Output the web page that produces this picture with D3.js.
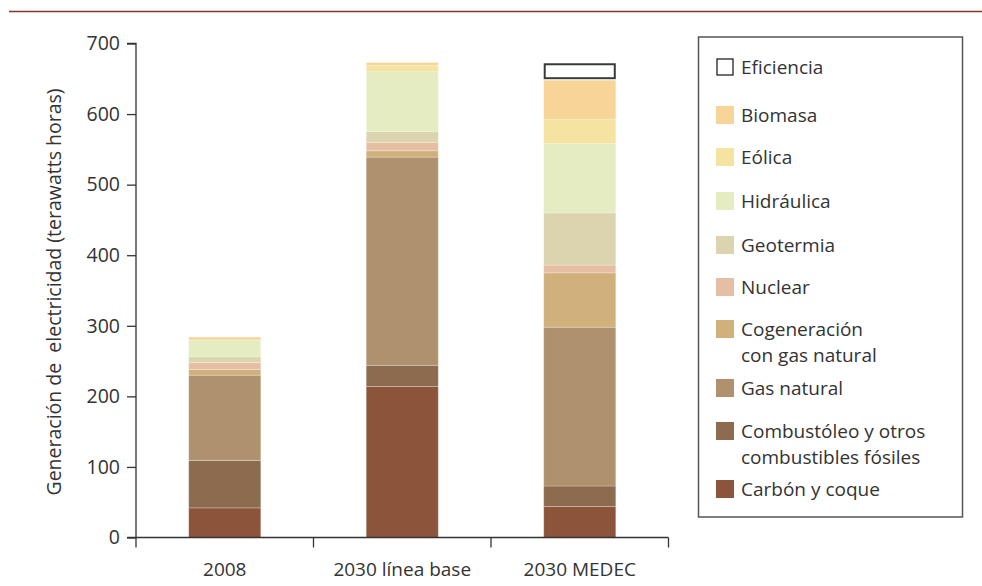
<!DOCTYPE html>
<html><head><meta charset="utf-8">
<script src="https://cdn.jsdelivr.net/npm/d3@7"></script>
<style>
html,body{margin:0;padding:0;background:#fff;}
svg{display:block;font-family:"Open Sans","Noto Sans",sans-serif;}
</style></head>
<body>
<svg id="chart" width="982" height="586"></svg>
<script>
const categories = ["2008", "2030 línea base", "2030 MEDEC"];
const carbon      = [42, 214, 44];
const combustoleo = [67, 30, 29];
const gasNatural  = [121, 295, 225];
const cogeneracion= [8, 9, 77];
const nuclear     = [10, 12, 11];
const geotermia   = [8, 15, 74];
const hidraulica  = [24, 85, 98];
const eolica      = [0, 9, 35];
const biomasa     = [4, 4, 55];
const eficiencia  = [0, 0, 24];
const yTicks = [0, 100, 200, 300, 400, 500, 600, 700];

const seriesNames = ["Carbón y coque", "Combustóleo y otros combustibles fósiles", "Gas natural",
  "Cogeneración con gas natural", "Nuclear", "Geotermia", "Hidráulica", "Eólica", "Biomasa", "Eficiencia"];
const seriesValues = [carbon, combustoleo, gasNatural, cogeneracion, nuclear, geotermia, hidraulica, eolica, biomasa, eficiencia];
const colors = ["#8c553b", "#8c6b4f", "#b0916e", "#d1b17b", "#e6bea4", "#dbd4ae", "#e5ecc2", "#f4e3a1", "#f7d497", "#ffffff"];
const legendLabels = [
  ["Eficiencia"], ["Biomasa"], ["Eólica"], ["Hidráulica"], ["Geotermia"], ["Nuclear"],
  ["Cogeneración", "con gas natural"], ["Gas natural"],
  ["Combustóleo y otros", "combustibles fósiles"], ["Carbón y coque"]
];
const legendY = [67, 115, 157, 201, 245, 287, 329, 388, 431, 489];

const FS = 19;
const svg = d3.select("#chart");

// top rule
svg.append("line").attr("x1", 9).attr("x2", 982).attr("y1", 11.5).attr("y2", 11.5)
  .attr("stroke", "#7b3b2c").attr("stroke-width", 1.5);

const x = d3.scaleBand().domain(categories).range([136, 668.5]).paddingInner(0.594).paddingOuter(0.297);
const y = d3.scaleLinear().domain([0, 700]).range([537.5, 43.5]);

// stack data
const table = categories.map((c, i) => {
  const o = {cat: c};
  seriesNames.forEach((s, k) => o[s] = seriesValues[k][i]);
  return o;
});
const stack = d3.stack().keys(seriesNames)(table);

const g = svg.append("g");
stack.forEach((layer, k) => {
  const isEff = seriesNames[k] === "Eficiencia";
  g.selectAll(null).data(layer.filter(d => d[1] - d[0] > 0)).enter().append("rect")
    .attr("x", d => x(d.data.cat) + (isEff ? 1 : 0))
    .attr("width", x.bandwidth() - (isEff ? 2 : 0))
    .attr("y", d => y(d[1]) + (isEff ? 1 : 0))
    .attr("height", d => y(d[0]) - y(d[1]) - (isEff ? 3 : 0))
    .attr("fill", colors[k])
    .attr("stroke", isEff ? "#3a3a3a" : "rgba(255,255,255,0.3)")
    .attr("stroke-width", isEff ? 2 : 0.8);
});

// y axis
const yAxis = svg.append("g").attr("transform", "translate(136,0)")
  .call(d3.axisLeft(y).tickValues(yTicks).tickSize(9).tickPadding(7).tickFormat(d3.format("d")));
yAxis.select(".domain").attr("stroke", "#333").attr("stroke-width", 1.3).attr("d", "M-9,43.5H0V537.5H-9");
yAxis.selectAll(".tick line").attr("stroke", "#333").attr("stroke-width", 1.3);
yAxis.selectAll(".tick text").attr("font-size", FS + 0.5).attr("fill", "#333").attr("font-family", "Open Sans, Noto Sans, sans-serif");

// x axis
const step = x.step();
const bounds = [x(categories[0]) + x.bandwidth() / 2 - step / 2].concat(categories.map(c => x(c) + x.bandwidth() / 2 + step / 2));
const xg = svg.append("g");
xg.append("line").attr("x1", bounds[0]).attr("x2", bounds[bounds.length - 1])
  .attr("y1", y(0)).attr("y2", y(0)).attr("stroke", "#333").attr("stroke-width", 1.3);
xg.selectAll(null).data(bounds).enter().append("line")
  .attr("x1", d => d).attr("x2", d => d).attr("y1", y(0)).attr("y2", y(0) + 10)
  .attr("stroke", "#333").attr("stroke-width", 1.3);
xg.selectAll(null).data(categories).enter().append("text")
  .attr("x", d => x(d) + x.bandwidth() / 2).attr("y", 576)
  .attr("text-anchor", "middle").attr("font-size", FS).attr("fill", "#333").text(d => d);

// y title
svg.append("text").attr("transform", "translate(61,292) rotate(-90)")
  .attr("text-anchor", "middle").attr("font-size", FS + 0.5).attr("fill", "#333")
  .style("white-space", "pre").text("Generación de  electricidad (terawatts horas)");

// legend
svg.append("rect").attr("x", 698.5).attr("y", 37).attr("width", 264).attr("height", 480)
  .attr("fill", "none").attr("stroke", "#555").attr("stroke-width", 1.5);
const legendColors = colors.slice().reverse();
legendLabels.forEach((lines, i) => {
  const cy = legendY[i];
  const isEff = i === 0;
  svg.append("rect").attr("x", isEff ? 717 : 716).attr("y", cy - (isEff ? 8 : 9))
    .attr("width", isEff ? 16 : 18).attr("height", isEff ? 16 : 18)
    .attr("fill", legendColors[i]).attr("stroke", isEff ? "#222" : "none").attr("stroke-width", 1.3);
  lines.forEach((t, j) => {
    svg.append("text").attr("x", 741).attr("y", cy + 7 + j * 26)
      .attr("font-size", FS).attr("fill", "#333").text(t);
  });
});
</script>
</body></html>
